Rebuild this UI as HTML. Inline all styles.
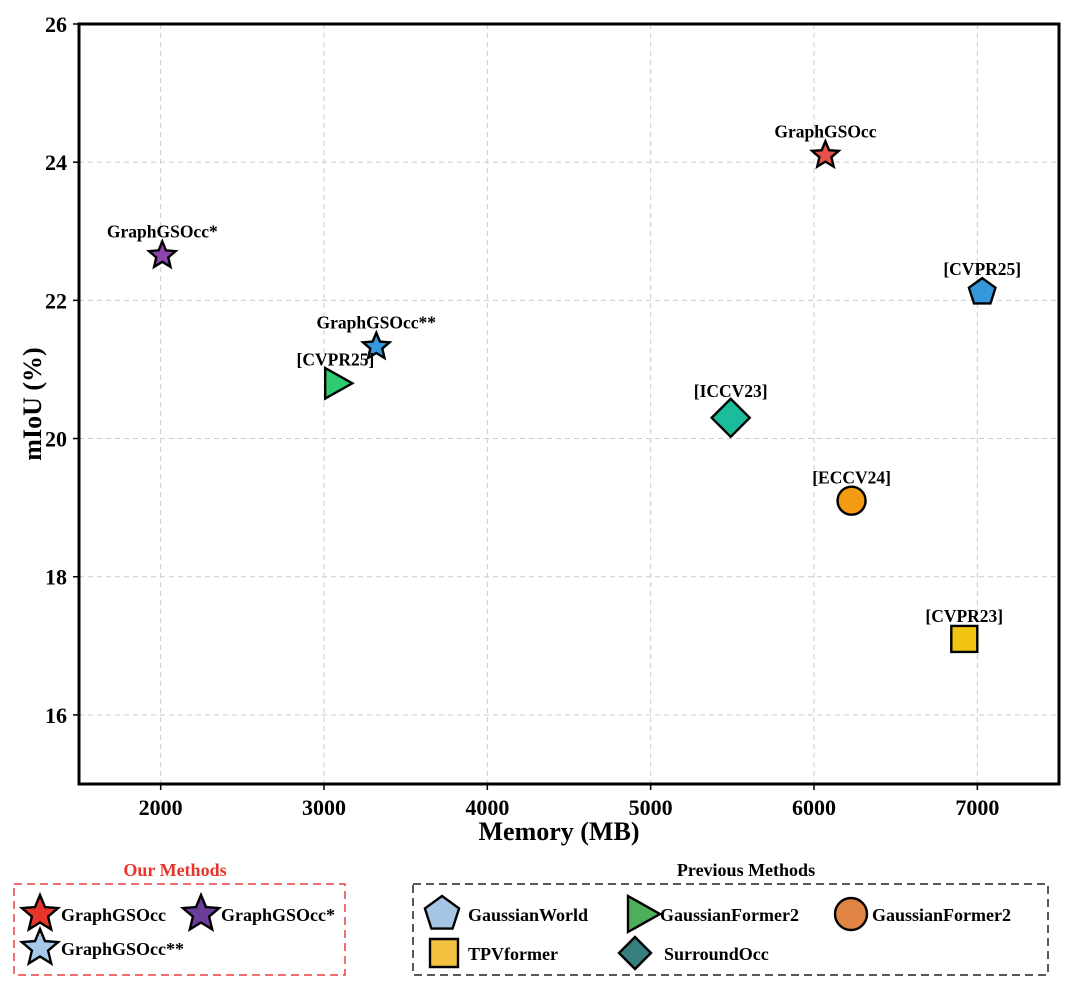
<!DOCTYPE html>
<html><head><meta charset="utf-8"><style>
body{margin:0;background:#fff;}
svg{display:block;font-family:"Liberation Serif",serif;font-weight:bold;}
</style></head><body>
<svg id="chart" width="1080" height="990" viewBox="0 0 1080 990" xmlns="http://www.w3.org/2000/svg">
<g id="grid"></g>
<g id="axes"></g>
<g id="marks"></g>
<g id="legend"></g>
</svg>
<script>
const NS="http://www.w3.org/2000/svg";
const xTicks=[2000,3000,4000,5000,6000,7000];
const yTicks=[16,18,20,22,24,26];
const names=["GraphGSOcc","GraphGSOcc*","GraphGSOcc**","[CVPR25]","[ICCV23]","[ECCV24]","[CVPR23]","[CVPR25]"];
const memory=[6070,2010,3320,3070,5490,6230,6920,7030];
const miou=[24.1,22.65,21.33,20.8,20.3,19.1,17.1,22.12];
const shapes=["star","star","star","tri","diamond","circle","square","pent"];
const colors=["#e8524a","#8e44ad","#3498db","#2ecc71","#1abc9c","#f39c12","#f1c40f","#3498db"];
const sizes=[14,14,14,17,19,14,13,14];
const labelDy=[-18,-18,-18,-18,-17,-17,-17,-17];

const X0=1500,X1=7500,PL=79,PR=1059,Y0=15,Y1=26,PT=24,PB=784;
const sx=v=>PL+(v-X0)/(X1-X0)*(PR-PL);
const sy=v=>PB-(v-Y0)/(Y1-Y0)*(PB-PT);
function el(tag,attrs,parent,text){const e=document.createElementNS(NS,tag);for(const k in attrs)e.setAttribute(k,attrs[k]);if(text!==undefined)e.textContent=text;parent.appendChild(e);return e;}
function shapePath(type,cx,cy,r){
  let pts=[];
  if(type==="star"){for(let i=0;i<10;i++){const a=-Math.PI/2+i*Math.PI/5;const rr=i%2?r*0.45:r;pts.push([cx+rr*Math.cos(a),cy+rr*Math.sin(a)]);}}
  else if(type==="pent"){for(let i=0;i<5;i++){const a=-Math.PI/2+i*2*Math.PI/5;pts.push([cx+r*Math.cos(a),cy+r*Math.sin(a)]);}}
  else if(type==="tri"){pts=[[cx+r,cy],[cx-r*0.6,cy-r*0.9],[cx-r*0.6,cy+r*0.9]];}
  else if(type==="diamond"){pts=[[cx,cy-r],[cx+r,cy],[cx,cy+r],[cx-r,cy]];}
  else if(type==="square"){pts=[[cx-r,cy-r],[cx+r,cy-r],[cx+r,cy+r],[cx-r,cy+r]];}
  return "M"+pts.map(p=>p[0].toFixed(1)+","+p[1].toFixed(1)).join("L")+"Z";
}
function drawShape(parent,type,cx,cy,r,fill){
  if(type==="circle")return el("circle",{cx:cx,cy:cy,r:r,fill:fill,stroke:"#000","stroke-width":2.4},parent);
  return el("path",{d:shapePath(type,cx,cy,r),fill:fill,stroke:"#000","stroke-width":2.4,"stroke-linejoin":"miter"},parent);
}
const grid=document.getElementById("grid"),axes=document.getElementById("axes"),marks=document.getElementById("marks"),legend=document.getElementById("legend");
xTicks.forEach(t=>{
  const l=el("line",{x1:sx(t),x2:sx(t),y1:PT,y2:PB,stroke:"#ccc","stroke-dasharray":"5,4","stroke-width":1},grid);
  
  
  el("line",{x1:sx(t),x2:sx(t),y1:PB,y2:PB+6,stroke:"#000","stroke-width":1.5},axes);
  const tx=el("text",{x:sx(t),y:PB+31,"text-anchor":"middle","font-size":22},axes,String(t));
  
  
});
yTicks.forEach(t=>{
  if(t<26){const l=el("line",{x1:PL,x2:PR,y1:sy(t),y2:sy(t),stroke:"#ccc","stroke-dasharray":"5,4","stroke-width":1},grid);
  
  }
  el("line",{x1:PL-6,x2:PL,y1:sy(t),y2:sy(t),stroke:"#000","stroke-width":1.5},axes);
  const tx=el("text",{x:PL-12,y:sy(t)+8,"text-anchor":"end","font-size":22},axes,String(t));
  
  
});
const frame=el("rect",{x:PL,y:PT,width:PR-PL,height:PB-PT,fill:"none",stroke:"#000","stroke-width":3},axes);


const xt=el("text",{x:(PL+PR)/2-10,y:PB+56,"text-anchor":"middle","font-size":26},axes,"Memory (MB)");


const yt=el("text",{x:0,y:0,"text-anchor":"middle","font-size":26,transform:"translate(41,"+((PT+PB)/2)+") rotate(-90)"},axes,"mIoU (%)");


names.forEach((n,i)=>{
  const cx=sx(memory[i]),cy=sy(miou[i]);
  const m=drawShape(marks,shapes[i],cx,cy,sizes[i],colors[i]);
  
  
  const t=el("text",{x:cx,y:cy+labelDy[i]-(shapes[i]==="diamond"?4:0),"text-anchor":"middle","font-size":17.5},marks,n);
  
  
});
const ot=el("text",{x:175,y:876,"text-anchor":"middle","font-size":18,fill:"#e8352a"},legend,"Our Methods");


const ob=el("rect",{x:14,y:884,width:331,height:91,fill:"none",stroke:"#e84040","stroke-width":1.5,"stroke-dasharray":"8,5"},legend);


const pt=el("text",{x:746,y:876,"text-anchor":"middle","font-size":18},legend,"Previous Methods");


const pb=el("rect",{x:413,y:884,width:635,height:91,fill:"none",stroke:"#222","stroke-width":1.5,"stroke-dasharray":"8,5"},legend);


const legItems=[
 ["star",40,914,19,"#e8352a","GraphGSOcc",61],
 ["star",201,914,19,"#6a3d9a","GraphGSOcc*",221],
 ["star",40,948,19,"#a6c8e8","GraphGSOcc**",61],
 ["pent",442,914,18,"#a6c4e4","GaussianWorld",468],
 ["tri",640,914,20,"#4caf5a","GaussianFormer2",660],
 ["circle",851,914,16,"#e08443","GaussianFormer2",872],
 ["square",444,953,14,"#f2c240","TPVformer",468],
 ["diamond",635,953,16,"#377f7f","SurroundOcc",664]];
legItems.forEach(it=>{
  const g=el("g",{},legend);
  
  
  drawShape(g,it[0],it[1],it[2],it[3],it[4]);
  el("text",{x:it[6],y:it[2]+7,"font-size":18},g,it[5]);
});
</script>
</body></html>
